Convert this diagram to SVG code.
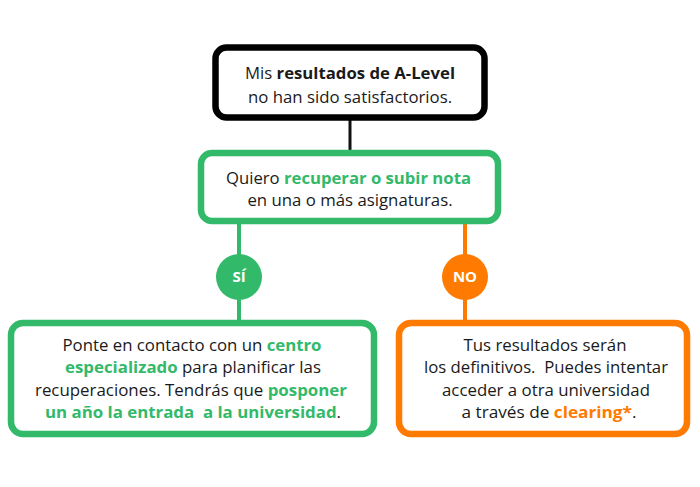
<svg xmlns="http://www.w3.org/2000/svg" width="700" height="487" viewBox="0 0 700 487">
<style>
text{font-family:"Open Sans","Liberation Sans",sans-serif;font-size:16.5px;fill:#1a1a1a;text-anchor:middle;white-space:pre}
.t{font-size:16.8px}
.b{font-weight:bold}
.g{fill:#33b96a;font-weight:bold}
.o{fill:#ff7a00;font-weight:bold}
.box{fill:#fff;stroke-width:6.5}
.lbl{fill:#fff;font-weight:bold;font-size:15px}
</style>
<rect width="700" height="487" fill="#fff"/>
<g id="connectors">
<line x1="350" y1="120" x2="350" y2="152" stroke="#111" stroke-width="3"/>
<line x1="239" y1="222" x2="239" y2="322" stroke="#33b96a" stroke-width="4"/>
<line x1="465" y1="222" x2="465" y2="322" stroke="#ff7a00" stroke-width="4"/>
</g>
<g id="n-top">
<rect class="box" x="215.5" y="47.5" width="269" height="70" rx="11" stroke="#000" stroke-width="7"/>
<text class="t" x="350" y="79" textLength="210" lengthAdjust="spacingAndGlyphs">Mis <tspan class="b">resultados de A-Level</tspan></text>
<text class="t" x="350" y="103">no han sido satisfactorios.</text>
</g>
<g id="n-quiero">
<rect class="box" x="201" y="153" width="297" height="68" rx="11" stroke="#33b96a"/>
<text class="t" x="348.5" y="184" textLength="245" lengthAdjust="spacingAndGlyphs">Quiero <tspan class="g">recuperar o subir nota</tspan></text>
<text class="t" x="350" y="206">en una o más asignaturas.</text>
</g>
<g id="n-si">
<circle cx="239" cy="277" r="23" fill="#33b96a"/>
<text class="lbl" x="239" y="282">SÍ</text>
</g>
<g id="n-no">
<circle cx="465" cy="277" r="23" fill="#ff7a00"/>
<text class="lbl" x="465" y="282">NO</text>
</g>
<g id="n-left">
<rect class="box" x="11" y="323" width="363" height="111" rx="12" stroke="#33b96a"/>
<text x="192" y="351" textLength="259" lengthAdjust="spacingAndGlyphs">Ponte en contacto con un <tspan class="g">centro</tspan></text>
<text x="193" y="373" textLength="256" lengthAdjust="spacingAndGlyphs"><tspan class="g">especializado</tspan> para planificar las</text>
<text x="191" y="396" textLength="312" lengthAdjust="spacingAndGlyphs">recuperaciones. Tendrás que <tspan class="g">posponer</tspan></text>
<text x="193" y="418" textLength="296" lengthAdjust="spacingAndGlyphs"><tspan class="g">un año la entrada  a la universidad</tspan>.</text>
</g>
<g id="n-right">
<rect class="box" x="399" y="323" width="288" height="111" rx="12" stroke="#ff7a00"/>
<text x="545" y="351" textLength="163" lengthAdjust="spacingAndGlyphs">Tus resultados serán</text>
<text x="546" y="373" textLength="244" lengthAdjust="spacingAndGlyphs">los definitivos.  Puedes intentar</text>
<text x="546" y="396" textLength="208" lengthAdjust="spacingAndGlyphs">acceder a otra universidad</text>
<text x="549" y="418" textLength="175" lengthAdjust="spacingAndGlyphs">a través de <tspan class="o">clearing*</tspan>.</text>
</g>
</svg>
